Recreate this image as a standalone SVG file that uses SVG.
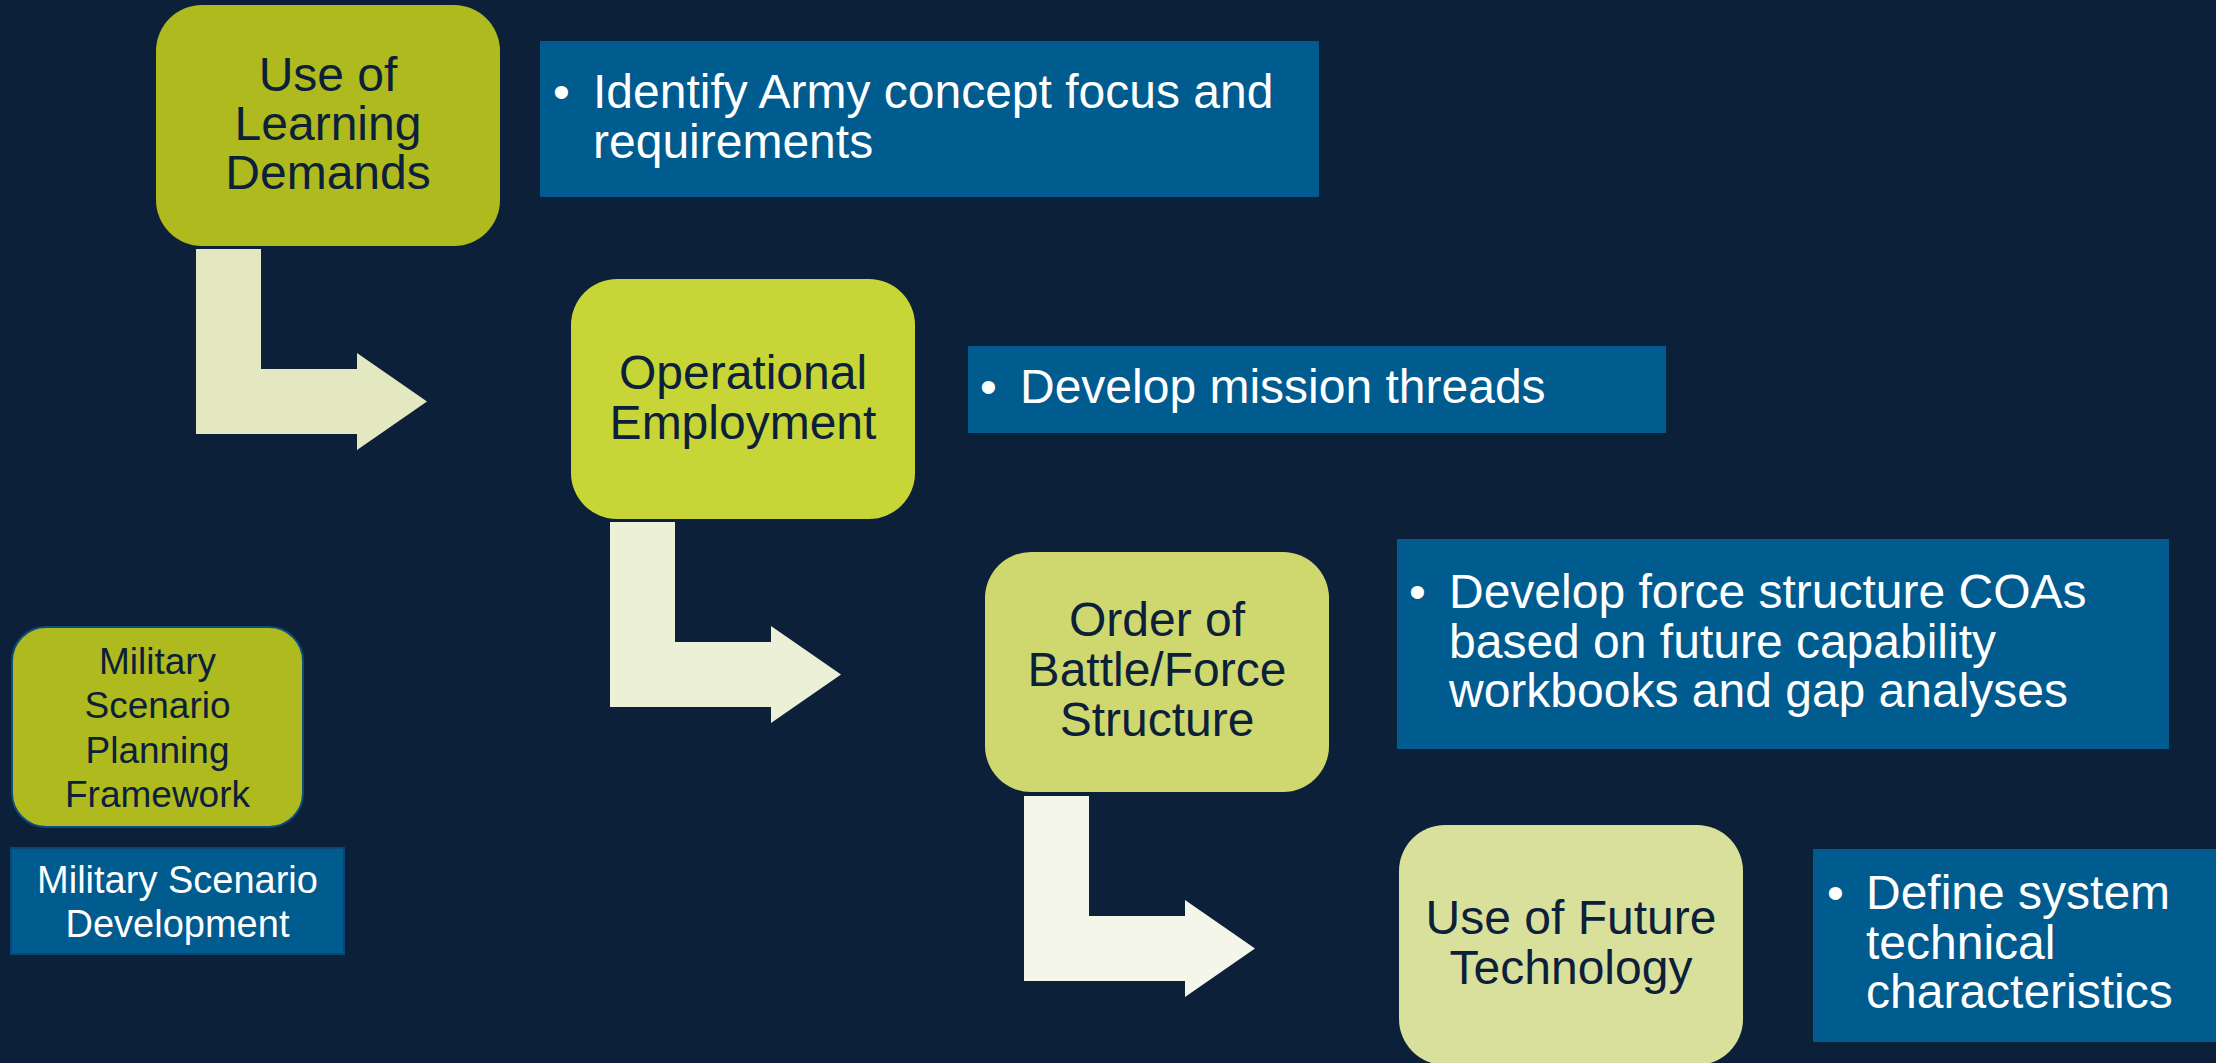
<svg xmlns="http://www.w3.org/2000/svg" width="2216" height="1063" viewBox="0 0 2216 1063">
<style>
.bg{fill:#0c2139}
.t{font-family:"Liberation Sans",Arial,sans-serif;font-size:48px;text-anchor:middle;fill:#0c2139}
.w{font-family:"Liberation Sans",Arial,sans-serif;font-size:48px;fill:#ffffff}
.s{font-family:"Liberation Sans",Arial,sans-serif;font-size:37px;text-anchor:middle}
.callout{fill:#005b8f}
</style>
<rect class="bg" x="0" y="0" width="2216" height="1063"/>
<g id="connectors">
<path d="M196,249 H261 V369 H357 V353 L427,401.5 L357,450 V434 H196 Z" fill="#e3e8c0"/>
<path d="M610,522 H675 V642 H771 V626 L841,674.5 L771,723 V707 H610 Z" fill="#ebf0d6"/>
<path d="M1024,796 H1089 V916 H1185 V900 L1255,948.5 L1185,997 V981 H1024 Z" fill="#f4f6ea"/>
</g>
<g id="node1">
<rect x="156" y="5" width="344" height="241" rx="46" fill="#afba1f"/>
<text class="t"><tspan x="328" y="91">Use of</tspan><tspan x="328" y="140">Learning</tspan><tspan x="328" y="189">Demands</tspan></text>
</g>
<g id="callout1">
<rect class="callout" x="540" y="41" width="779" height="156"/>
<text class="w"><tspan x="553" y="108">•</tspan><tspan x="593" y="108">Identify Army concept focus and</tspan><tspan x="593" y="158">requirements</tspan></text>
</g>
<g id="node2">
<rect x="571" y="279" width="344" height="240" rx="46" fill="#c8d536"/>
<text class="t"><tspan x="743" y="389">Operational</tspan><tspan x="743" y="439">Employment</tspan></text>
</g>
<g id="callout2">
<rect class="callout" x="968" y="346" width="698" height="87"/>
<text class="w"><tspan x="980" y="403">•</tspan><tspan x="1020" y="403">Develop mission threads</tspan></text>
</g>
<g id="node3">
<rect x="985" y="552" width="344" height="240" rx="46" fill="#cfd86e"/>
<text class="t"><tspan x="1157" y="636">Order of</tspan><tspan x="1157" y="686">Battle/Force</tspan><tspan x="1157" y="736">Structure</tspan></text>
</g>
<g id="callout3">
<rect class="callout" x="1397" y="539" width="772" height="210"/>
<text class="w"><tspan x="1409" y="608">•</tspan><tspan x="1449" y="608">Develop force structure COAs</tspan><tspan x="1449" y="658">based on future capability</tspan><tspan x="1449" y="707">workbooks and gap analyses</tspan></text>
</g>
<g id="node4">
<rect x="1399" y="825" width="344" height="240" rx="46" fill="#d9e09b"/>
<text class="t"><tspan x="1571" y="934">Use of Future</tspan><tspan x="1571" y="984">Technology</tspan></text>
</g>
<g id="callout4">
<rect class="callout" x="1813" y="849" width="403" height="193"/>
<text class="w"><tspan x="1827" y="909">•</tspan><tspan x="1866" y="909">Define system</tspan><tspan x="1866" y="959">technical</tspan><tspan x="1866" y="1008">characteristics</tspan></text>
</g>
<g id="framework">
<rect x="12" y="627" width="291" height="200" rx="34" fill="#afba1f" stroke="#0b4d7e" stroke-width="2"/>
<text class="s" fill="#0c2139"><tspan x="157.5" y="674">Military</tspan><tspan x="157.5" y="718">Scenario</tspan><tspan x="157.5" y="763">Planning</tspan><tspan x="157.5" y="807">Framework</tspan></text>
</g>
<g id="development">
<rect x="11" y="848" width="333" height="106" fill="#005b8f" stroke="#0b4674" stroke-width="2"/>
<text class="s" fill="#ffffff" style="font-size:38px"><tspan x="177.5" y="893">Military Scenario</tspan><tspan x="177.5" y="937">Development</tspan></text>
</g>
</svg>
